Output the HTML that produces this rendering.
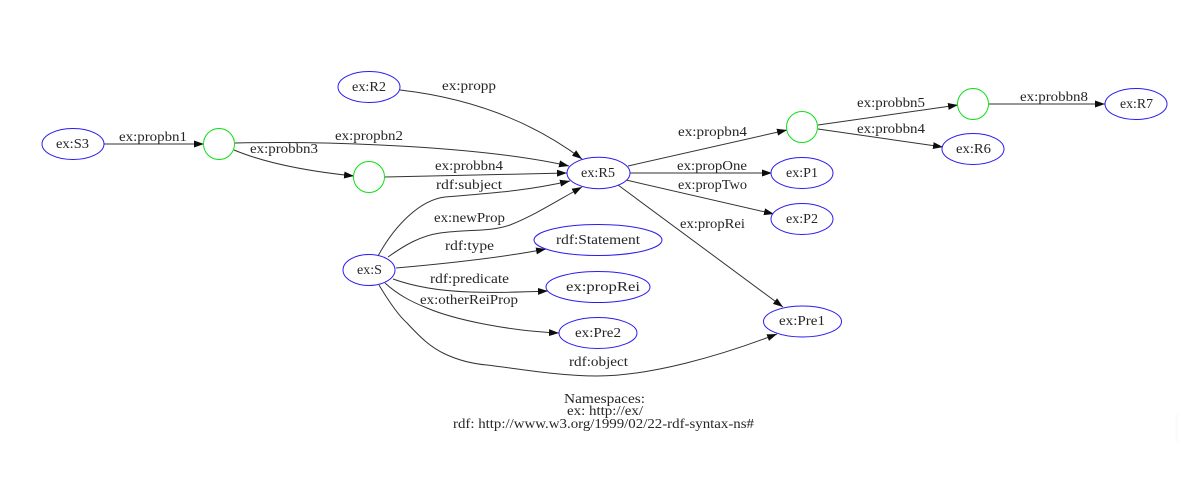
<!DOCTYPE html>
<html>
<head>
<meta charset="utf-8">
<style>
html,body{margin:0;padding:0;background:#fff;width:1179px;height:491px;overflow:hidden}
svg{display:block}
text{font-family:"Liberation Serif",serif;font-size:13.5px;fill:#262626;text-anchor:start}
.e{fill:none;stroke:#333;stroke-width:1}
.n{fill:#fff;stroke:#2a1cf0;stroke-width:1}
.b{fill:#fff;stroke:#0ce016;stroke-width:1}
</style>
</head>
<body>
<svg width="1179" height="491" viewBox="0 0 1179 491" xmlns="http://www.w3.org/2000/svg">
<defs>
<marker id="a" markerUnits="userSpaceOnUse" markerWidth="11" markerHeight="8" refX="10" refY="3.5" orient="auto">
<path d="M0,0 L10,3.5 L0,7 Z" fill="#111"/>
</marker>
<filter id="s" x="-2%" y="-2%" width="104%" height="104%"><feGaussianBlur stdDeviation="0.3"/></filter>
</defs>
<rect x="1175" y="414" width="3" height="28" fill="#fbfbfb"/>
<g filter="url(#s)">
<path class="e" marker-end="url(#a)" d="M104,144 L204,144"/>
<path class="e" marker-end="url(#a)" d="M235,143 C330,141 480,146 569,166"/>
<path class="e" marker-end="url(#a)" d="M234,150 C270,165 315,172 354,176"/>
<path class="e" marker-end="url(#a)" d="M385,177 C450,175 510,174 567,173"/>
<path class="e" marker-end="url(#a)" d="M400,90 C470,98 530,120 582,159"/>
<path class="e" marker-end="url(#a)" d="M378,256 C395,225 420,200 445,197 C490,193 520,192 570,181"/>
<path class="e" marker-end="url(#a)" d="M388,257 C405,245 420,236 440,233 C470,229 490,232 510,225 C535,215 555,202 582,187"/>
<path class="e" marker-end="url(#a)" d="M396,268 C430,265 500,258 546,249"/>
<path class="e" marker-end="url(#a)" d="M393,279 C415,287 440,291 470,292 C500,293 525,292 548,291"/>
<path class="e" marker-end="url(#a)" d="M385,283 C398,295 412,302 427,308 C455,320 510,331 559,333"/>
<path class="e" marker-end="url(#a)" d="M379,285 C388,300 398,315 407,323 C420,337 430,347 445,354 C460,361 475,364 487,365 C520,369 560,376 597,376 C650,376 720,356 777,334"/>
<path class="e" marker-end="url(#a)" d="M628,166 L787,130"/>
<path class="e" marker-end="url(#a)" d="M630,173 L772,173"/>
<path class="e" marker-end="url(#a)" d="M626,180 L774,214"/>
<path class="e" marker-end="url(#a)" d="M618,185 L783,307"/>
<path class="e" marker-end="url(#a)" d="M818,125 L958,105"/>
<path class="e" marker-end="url(#a)" d="M818,129 L943,147"/>
<path class="e" marker-end="url(#a)" d="M989,104 L1105,104"/>

<ellipse class="n" cx="73" cy="144" rx="31" ry="15.5"/>
<circle class="b" cx="219" cy="144" r="15.5"/>
<ellipse class="n" cx="369" cy="87" rx="31" ry="15.5"/>
<circle class="b" cx="369" cy="177" r="15.5"/>
<ellipse class="n" cx="598.5" cy="173" rx="31.5" ry="15.7"/>
<circle class="b" cx="802" cy="127" r="15.5"/>
<circle class="b" cx="973" cy="104" r="15.5"/>
<ellipse class="n" cx="1136" cy="104" rx="31" ry="15.5"/>
<ellipse class="n" cx="973" cy="149" rx="31" ry="15.5"/>
<ellipse class="n" cx="802" cy="173" rx="31" ry="15.5"/>
<ellipse class="n" cx="802" cy="219" rx="31" ry="15.5"/>
<ellipse class="n" cx="598" cy="240" rx="64" ry="15.5"/>
<ellipse class="n" cx="598" cy="287" rx="52" ry="15.5"/>
<ellipse class="n" cx="598" cy="333" rx="39" ry="15.5"/>
<ellipse class="n" cx="802.5" cy="321.5" rx="39" ry="15.5"/>
<ellipse class="n" cx="369" cy="270" rx="26" ry="15.5"/>

<text x="56" y="148" textLength="33" lengthAdjust="spacingAndGlyphs">ex:S3</text>
<text x="352" y="91" textLength="34" lengthAdjust="spacingAndGlyphs">ex:R2</text>
<text x="581" y="177" textLength="34" lengthAdjust="spacingAndGlyphs">ex:R5</text>
<text x="1120" y="108" textLength="33" lengthAdjust="spacingAndGlyphs">ex:R7</text>
<text x="956" y="153" textLength="35" lengthAdjust="spacingAndGlyphs">ex:R6</text>
<text x="786" y="177" textLength="32" lengthAdjust="spacingAndGlyphs">ex:P1</text>
<text x="786" y="223" textLength="32" lengthAdjust="spacingAndGlyphs">ex:P2</text>
<text x="556" y="244" textLength="84" lengthAdjust="spacingAndGlyphs">rdf:Statement</text>
<text x="566" y="291" textLength="74" lengthAdjust="spacingAndGlyphs">ex:propRei</text>
<text x="575" y="337" textLength="46" lengthAdjust="spacingAndGlyphs">ex:Pre2</text>
<text x="779" y="325" textLength="46" lengthAdjust="spacingAndGlyphs">ex:Pre1</text>
<text x="357" y="274" textLength="25" lengthAdjust="spacingAndGlyphs">ex:S</text>

<text x="119" y="141" textLength="68" lengthAdjust="spacingAndGlyphs">ex:propbn1</text>
<text x="335" y="140" textLength="68" lengthAdjust="spacingAndGlyphs">ex:propbn2</text>
<text x="250" y="153" textLength="68" lengthAdjust="spacingAndGlyphs">ex:probbn3</text>
<text x="442" y="90" textLength="54" lengthAdjust="spacingAndGlyphs">ex:propp</text>
<text x="435" y="170" textLength="68" lengthAdjust="spacingAndGlyphs">ex:probbn4</text>
<text x="436" y="189" textLength="66" lengthAdjust="spacingAndGlyphs">rdf:subject</text>
<text x="434" y="222" textLength="71" lengthAdjust="spacingAndGlyphs">ex:newProp</text>
<text x="445" y="250" textLength="49" lengthAdjust="spacingAndGlyphs">rdf:type</text>
<text x="430" y="283" textLength="79" lengthAdjust="spacingAndGlyphs">rdf:predicate</text>
<text x="420" y="304" textLength="98" lengthAdjust="spacingAndGlyphs">ex:otherReiProp</text>
<text x="569" y="366" textLength="59" lengthAdjust="spacingAndGlyphs">rdf:object</text>
<text x="678" y="136" textLength="69" lengthAdjust="spacingAndGlyphs">ex:propbn4</text>
<text x="677" y="170" textLength="70" lengthAdjust="spacingAndGlyphs">ex:propOne</text>
<text x="678" y="189" textLength="69" lengthAdjust="spacingAndGlyphs">ex:propTwo</text>
<text x="680" y="228" textLength="65" lengthAdjust="spacingAndGlyphs">ex:propRei</text>
<text x="857" y="107" textLength="68" lengthAdjust="spacingAndGlyphs">ex:probbn5</text>
<text x="857" y="133" textLength="68" lengthAdjust="spacingAndGlyphs">ex:probbn4</text>
<text x="1020" y="101" textLength="68" lengthAdjust="spacingAndGlyphs">ex:probbn8</text>

<text x="564" y="403" textLength="81" lengthAdjust="spacingAndGlyphs">Namespaces:</text>
<text x="567" y="415" textLength="76" lengthAdjust="spacingAndGlyphs">ex: http://ex/</text>
<text x="453" y="428" textLength="301" lengthAdjust="spacingAndGlyphs">rdf: http://www.w3.org/1999/02/22-rdf-syntax-ns#</text>
</g>
</svg>
</body>
</html>
